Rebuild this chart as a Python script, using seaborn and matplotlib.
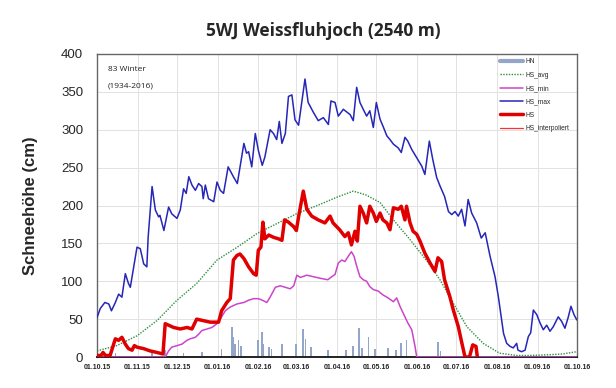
import pandas as pd
import numpy as np
import matplotlib
matplotlib.use("Agg")
import matplotlib.pyplot as plt
import matplotlib.dates as mdates
from matplotlib.lines import Line2D
import seaborn as sns

start = pd.Timestamp("2015-10-01")

# HS_max (days since 01.10.15, cm)
max_days = [0, 2.5, 6, 9, 11, 14, 16.5, 19, 21.6, 24, 25.4, 28, 30.5, 33, 35.6, 38, 39, 42, 44.5, 47, 48, 51,
            54.6, 57, 61, 63.5, 66, 68, 70, 72.4, 75, 77.5, 80, 81, 82.6, 85, 89, 91.5, 94, 96.5, 100, 104, 107,
            112, 114, 115.6, 118, 120.7, 123, 126, 128, 132, 134.6, 137, 139, 141, 143.6, 146, 148.6, 151, 153.7,
            158.6, 161, 165, 168.7, 172.6, 176.4, 178.4, 181.5, 184, 187.8, 193, 195.4, 198, 200.5, 203, 205.6,
            208, 210.7, 213, 215.8, 218, 221, 223.4, 226, 229.7, 232, 234.8, 237, 240, 243.8, 247.6, 250, 253.4,
            256, 259, 261.5, 265, 268, 270.5, 273, 275.5, 278, 280.6, 283, 285.7, 289.5, 293, 296, 299.7, 303.5,
            306, 308, 310, 312.4, 315, 317.4, 320, 321, 323.8, 326.4, 328.9, 330.7, 332.7, 335.3, 337.8, 340.3,
            342.9, 345.4, 347.9, 351.7, 354.3, 356.8, 359.4, 361.4, 363.7, 365.8]
max_vals = [52, 64, 72, 70, 61, 72, 83, 79, 110, 97, 92, 119, 145, 143, 123, 119, 158, 225, 194, 185, 187, 167,
            198, 189, 183, 194, 222, 216, 238, 227, 220, 229, 225, 209, 227, 209, 205, 231, 220, 216, 251, 238, 229,
            282, 269, 271, 251, 295, 273, 253, 264, 300, 295, 287, 311, 282, 295, 344, 346, 313, 306,
            367, 336, 323, 312, 316, 307, 338, 336, 318, 327, 320, 312, 356, 336, 327, 318,
            325, 303, 336, 314, 305, 292, 287, 281, 276, 270, 290, 285, 274, 263, 252, 241, 285,
            261, 237, 226, 212, 192, 188, 192, 186, 195, 173, 208, 190, 177, 157, 164, 133, 106,
            80, 55, 31, 18, 14, 12, 18, 9, 7, 9, 27, 32, 62, 56, 45, 36,
            42, 34, 40, 53, 47, 38, 53, 67, 56, 49]

# HS (measured)
hs_days = [0, 3, 4.6, 6.4, 10, 12.7, 14, 16.5, 19, 21.6, 24, 26.7, 28.5, 30.5, 35.6, 40.6, 45.7, 50.3, 52, 54.6,
           58.4, 63.5, 68.6, 72.4, 76, 81, 86.4, 92.7, 95, 99, 101.6, 104, 106.7, 109, 112, 115.6, 119.4, 121.4,
           123, 125, 126.5, 128, 131, 134.6, 138.4, 141, 143, 146, 150, 152, 153.7, 157.3, 160, 163.7, 168.7,
           173.8, 177.7, 180, 185, 189, 191.6, 194, 196.7, 198.5, 200.5, 203, 205.6, 208, 210.7, 213, 215.8, 218,
           221, 223.4, 226, 229.7, 232, 234.8, 236, 238.7, 241, 243.8, 246.3, 250, 254, 257.7, 260, 262.8, 265,
           269, 271.7, 275.5, 278, 280.6, 284, 286.5, 289, 290]
hs_vals = [2, 2, 6, 2, 2, 17, 24, 22, 26, 17, 11, 9, 15, 13, 11, 8, 6, 4, 44, 42,
           39, 37, 39, 37, 50, 48, 46, 46, 61, 72, 77, 128, 134, 136, 130, 119, 110, 108,
           141, 145, 178, 156, 161, 158, 156, 154, 181, 178, 172, 167, 185, 219, 195, 186, 181,
           177, 186, 177, 168, 159, 164, 148, 166, 153, 199, 190, 177, 199, 190, 179, 190, 181,
           177, 168, 197, 195, 199, 181, 199, 177, 166, 162, 153, 137, 124, 113, 131, 126, 102,
           80, 62, 40, 20, 0, 0, 16, 14, 0]

# HS_min
min_days = [0, 52, 54.6, 57, 61, 64.8, 68.6, 71, 75, 77.5, 80, 84, 87.6, 91.5, 94, 97.8, 101.6, 106.7, 112,
            115.6, 119.4, 123, 126, 129.5, 132, 136, 139.7, 143.6, 147.3, 150, 152.4, 155, 160, 165, 170, 176,
            179, 181.5, 184, 186.6, 189, 191.6, 194, 196, 198, 200.5, 203, 205.6, 208, 210.7, 214.5, 218, 222,
            226, 228.5, 231, 234.8, 237, 240, 242.5, 243.8, 366]
min_vals = [0, 0, 8, 13, 15, 17, 22, 24, 26, 30, 35, 37, 39, 44, 50, 61, 66, 70, 72,
            75, 77, 77, 75, 72, 79, 92, 94, 92, 90, 94, 108, 105, 108, 106, 104, 102,
            106, 109, 124, 128, 126, 133, 139, 133, 120, 106, 102, 100, 93, 89, 87, 82, 78,
            73, 78, 67, 53, 45, 36, 14, 0, 0]

# HS_avg
avg_days = [0, 15, 30.5, 45.7, 61, 76, 91.5, 107, 122, 137, 152, 168, 183, 195.4, 205, 215.8, 226, 238.7, 251,
            261.5, 271.7, 282, 294.5, 307, 320, 330, 345, 355, 365.8]
avg_vals = [8, 15, 28, 48, 75, 97, 128, 145, 163, 176, 189, 200, 211, 219, 214, 204, 181, 155, 128,
            102, 71, 40, 18, 5, 2, 2, 3, 4, 7]

# HN (new snow)
hn_days = [14, 42, 52, 66, 80, 95, 103, 104, 105, 108, 110, 123, 126, 127, 131, 133, 141, 152, 157, 159, 163,
           176, 190, 195, 200, 202, 207, 212, 222, 228, 232, 236, 260, 262]
hn_vals = [5, 7, 9, 5, 6, 10, 39, 26, 17, 22, 15, 22, 33, 17, 13, 10, 17, 17, 37, 24, 13,
           9, 9, 15, 38, 12, 27, 10, 12, 9, 19, 22, 20, 8]


def to_df(days, vals):
    return pd.DataFrame({"date": start + pd.to_timedelta(days, unit="D"), "value": vals})


df_max = to_df(max_days, max_vals)
df_hs = to_df(hs_days, hs_vals)
df_min = to_df(min_days, min_vals)
df_avg = to_df(avg_days, avg_vals)
df_hn = to_df(hn_days, hn_vals)

c_hn = "#93a5c8"
c_avg = "#2f8f3f"
c_min = "#cc44cc"
c_max = "#2626b8"
c_hs = "#e00000"

sns.set_style("white")
plt.rcParams["font.family"] = ["Liberation Sans", "DejaVu Sans"]

fig = plt.figure(figsize=(6.16, 3.88), dpi=100)
ax = fig.add_axes([97 / 616, 31 / 388, 480 / 616, 303 / 388])

ax.bar(df_hn["date"], df_hn["value"], width=1.3, color=c_hn, lw=0, zorder=2)
sns.lineplot(data=df_avg, x="date", y="value", ax=ax, color=c_avg, lw=1.0, linestyle=(0, (1, 1)), zorder=3)
sns.lineplot(data=df_min, x="date", y="value", ax=ax, color=c_min, lw=1.1, zorder=4)
sns.lineplot(data=df_max, x="date", y="value", ax=ax, color=c_max, lw=1.1, zorder=5)
sns.lineplot(data=df_hs, x="date", y="value", ax=ax, color=c_hs, lw=2.5, zorder=6)

ax.set_xlim(start, pd.Timestamp("2016-10-01"))
ax.set_ylim(0, 400)
ax.set_yticks(range(0, 401, 50))
ax.xaxis.set_major_locator(mdates.MonthLocator())
ax.xaxis.set_major_formatter(mdates.DateFormatter("%d.%m.%y"))
ax.grid(True, color="#e2e2e2", lw=0.7)
ax.tick_params(axis="x", labelsize=5, length=0, pad=5)
ax.tick_params(axis="y", labelsize=9.5, length=0, pad=10)
for lab in ax.get_xticklabels():
    lab.set_fontweight("bold")
for s in ax.spines.values():
    s.set_color("#666666")
    s.set_linewidth(1.0)
ax.spines["bottom"].set_color("#222222")
ax.spines["bottom"].set_linewidth(1.4)

ax.set_xlabel("")
ax.set_ylabel("Schneehöhe (cm)", fontsize=12, fontweight="bold")
ax.yaxis.set_label_coords(-0.123, 0.5)

fig.text(323 / 616, 1 - 31 / 388, "5WJ Weissfluhjoch (2540 m)", ha="center", va="center",
         fontsize=12.5, fontweight="bold", family=["Open Sans", "DejaVu Sans"])

ax.text(0.023, 0.95, "83 Winter", transform=ax.transAxes, fontsize=6, va="center",
        color="#222222", family=["Open Sans", "DejaVu Sans"])
ax.text(0.023, 0.895, "(1934-2016)", transform=ax.transAxes, fontsize=6, va="center",
        color="#222222", family=["Open Sans", "DejaVu Sans"])

handles = [
    Line2D([], [], color=c_hn, lw=3),
    Line2D([], [], color=c_avg, lw=1.0, linestyle=(0, (1, 1))),
    Line2D([], [], color=c_min, lw=1.1),
    Line2D([], [], color=c_max, lw=1.1),
    Line2D([], [], color=c_hs, lw=2.5),
    Line2D([], [], color="#ff3030", lw=0.9),
]
labels = ["HN", "HS_avg", "HS_min", "HS_max", "HS", "HS_interpoliert"]
ax.legend(handles, labels, loc="upper left", bbox_to_anchor=(0.835, 0.995), frameon=False,
          fontsize=4.8, handlelength=3.4, handletextpad=0.4, labelspacing=0.95, borderaxespad=0)

fig.savefig("out.png", dpi=100)
